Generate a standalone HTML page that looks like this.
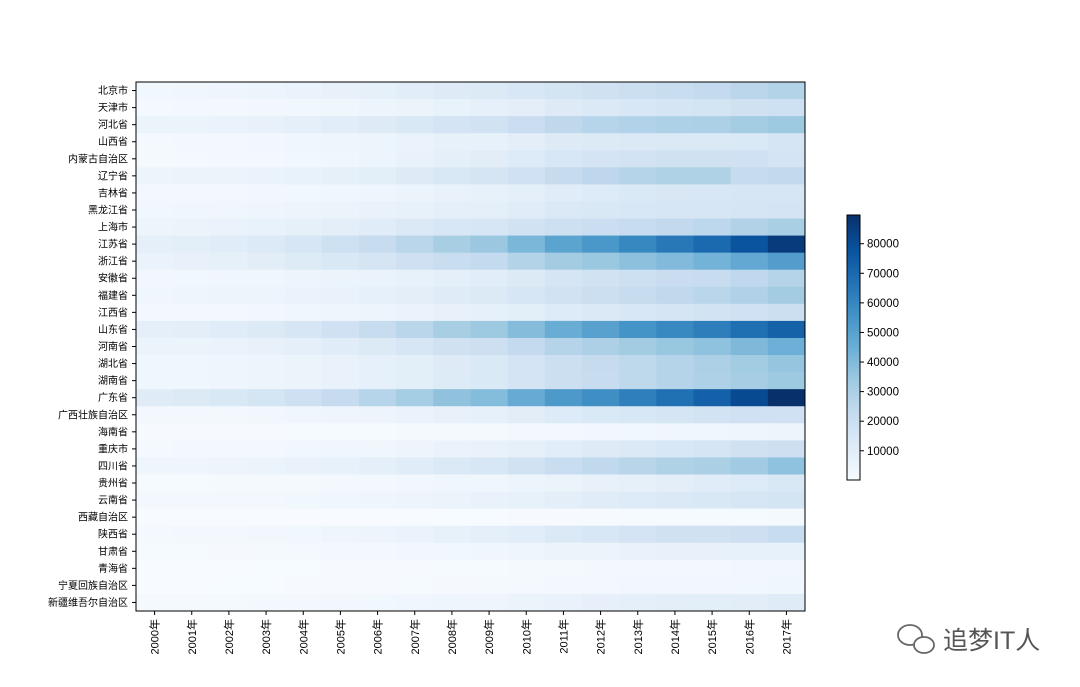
<!DOCTYPE html>
<html><head><meta charset="utf-8"><style>
body{margin:0;background:#fff;width:1080px;height:687px;overflow:hidden}
svg{display:block}
text{font-family:"Liberation Sans","Noto Sans CJK SC",sans-serif;fill:#000}
</style></head><body>
<svg id="chart" width="1080" height="687"></svg>
<script>
const provinces=["北京市","天津市","河北省","山西省","内蒙古自治区","辽宁省","吉林省","黑龙江省","上海市","江苏省","浙江省","安徽省","福建省","江西省","山东省","河南省","湖北省","湖南省","广东省","广西壮族自治区","海南省","重庆市","四川省","贵州省","云南省","西藏自治区","陕西省","甘肃省","青海省","宁夏回族自治区","新疆维吾尔自治区"];
const years=["2000年","2001年","2002年","2003年","2004年","2005年","2006年","2007年","2008年","2009年","2010年","2011年","2012年","2013年","2014年","2015年","2016年","2017年"];
const cbTicks=[10000,20000,30000,40000,50000,60000,70000,80000];
const gdp=[
[3162,3708,4315,5007,6033,6970,8118,9847,11115,12153,14114,16252,17879,19801,21331,23015,25669,28015],
[1702,1919,2151,2578,3111,3906,4463,5253,6719,7522,9224,11307,12894,14442,15727,16538,17885,18549],
[5044,5517,6018,6921,8478,10012,11468,13607,16012,17235,20394,24516,26575,28443,29421,29806,32070,34016],
[1846,2030,2325,2855,3571,4231,4879,6024,7315,7358,9201,11238,12113,12665,12761,12766,13050,15528],
[1539,1714,1941,2388,3041,3905,4944,6423,8496,9740,11672,14360,15881,16917,17770,17832,18128,16096],
[4669,5033,5458,6003,6672,8047,9305,11164,13669,15212,18457,22227,24846,27213,28627,28669,22246,23409],
[1952,2120,2349,2662,3122,3620,4275,5285,6426,7279,8668,10569,11939,13046,13803,14063,14777,14945],
[3151,3390,3637,4057,4751,5514,6212,7104,8314,8587,10369,12582,13692,14455,15039,15084,15386,15903],
[4771,5210,5741,6694,8073,9248,10572,12494,14070,15046,17166,19196,20182,21818,23568,25123,28179,30633],
[8554,9457,10607,12443,15004,18599,21742,26018,30982,34457,41425,49110,54058,59753,65088,70116,77388,85870],
[6141,6898,8004,9705,11649,13418,15718,18754,21463,22990,27722,32319,34665,37757,40173,42886,47251,51768],
[2902,3247,3520,3923,4759,5350,6113,7361,8852,10063,12359,15301,17212,19229,20849,22006,24408,27018],
[3765,4073,4468,4984,5763,6555,7584,9249,10823,12237,14737,17560,19702,21868,24056,25980,28811,32182],
[2003,2176,2450,2807,3457,4057,4821,5800,6971,7655,9451,11703,12949,14339,15715,16724,18499,20006],
[8337,9195,10276,12078,15022,18367,21900,25966,30933,33897,39170,45362,50013,55230,59427,63002,68024,72634],
[5053,5533,6035,6868,8554,10587,12363,15012,18019,19481,23092,26931,29599,32191,34938,37002,40472,44553],
[3546,3880,4213,4757,5633,6590,7617,9333,11329,12961,15968,19632,22250,24792,27379,29550,32665,35478],
[3551,3832,4152,4660,5642,6596,7689,9440,11555,13060,16038,19670,22154,24622,27037,28902,31551,33903],
[10741,12039,13502,15845,18865,22557,26588,31777,36797,39483,46013,53210,57068,62475,67810,72813,80855,89705],
[2080,2279,2524,2821,3434,3984,4747,5824,7021,7759,9570,11721,13035,14450,15673,16803,18318,18524],
[527,579,643,714,819,918,1066,1254,1503,1654,2065,2523,2856,3178,3501,3703,4053,4463],
[1791,1977,2233,2556,3035,3468,3907,4676,5794,6530,7926,10011,11410,12784,14263,15717,17741,19425],
[3928,4293,4725,5333,6380,7385,8690,10562,12601,14151,17185,21027,23873,26392,28537,30053,32935,36980],
[1030,1134,1243,1426,1678,2005,2339,2884,3562,3913,4602,5702,6852,8007,9266,10503,11777,13541],
[2011,2139,2312,2556,3082,3473,3988,4773,5692,6170,7224,8893,10309,11721,12815,13619,14788,16376],
[118,139,162,185,220,249,291,341,394,441,507,606,701,816,921,1026,1151,1311],
[1804,2010,2253,2588,3176,3934,4744,5757,7315,8170,10123,12512,14454,16205,17690,18022,19400,21899],
[1053,1125,1232,1399,1688,1934,2277,2703,3166,3388,4121,5020,5650,6331,6837,6790,7200,7460],
[264,301,341,390,466,543,641,784,1018,1081,1350,1670,1894,2122,2303,2417,2572,2625],
[295,337,377,445,537,612,711,919,1204,1353,1690,2102,2341,2578,2752,2912,3169,3444],
[1364,1491,1612,1886,2209,2604,3045,3523,4183,4277,5437,6610,7505,8444,9273,9325,9649,10882]
];
</script>
<script>
const NS="http://www.w3.org/2000/svg";
const svg=document.getElementById('chart');
function mk(tag,attrs,parent){const e=document.createElementNS(NS,tag);for(const k in attrs)e.setAttribute(k,attrs[k]);(parent||svg).appendChild(e);return e;}
const stops=["#f7fbff","#deebf7","#c6dbef","#9ecae1","#6baed6","#4292c6","#2171b5","#08519c","#08306b"];
function hex(h){return[1,3,5].map(i=>parseInt(h.substr(i,2),16));}
const all=gdp.flat();const vmin=Math.min(...all),vmax=Math.max(...all);
function cmap(v){let t=(v-vmin)/(vmax-vmin);t=Math.max(0,Math.min(1,t));const p=t*8,i=Math.min(7,Math.floor(p)),f=p-i;const a=hex(stops[i]),b=hex(stops[i+1]);return`rgb(${a.map((c,k)=>Math.round(c+(b[k]-c)*f)).join(',')})`;}
const X0=136,X1=805,Y0=82,Y1=611;
const cw=(X1-X0)/years.length,ch=(Y1-Y0)/provinces.length;
const xPos=i=>X0+i*cw, yPos=j=>Y0+j*ch;
const g=mk('g',{});


gdp.forEach((row,j)=>row.forEach((v,i)=>{
  const r=mk('rect',{x:xPos(i),y:yPos(j),width:cw+0.4,height:ch+0.4,fill:cmap(v)},g);
  
  
}));
const fr=mk('rect',{x:X0,y:Y0,width:X1-X0,height:Y1-Y0,fill:'none',stroke:'#000','stroke-width':1});


provinces.forEach((p,j)=>{
  const y=yPos(j)+ch/2;
  mk('line',{x1:X0-4,x2:X0,y1:y,y2:y,stroke:'#000'});
  const t=mk('text',{x:X0-8,y:y+3.5,'text-anchor':'end','font-size':10});
  t.textContent=p;
  
  
});
years.forEach((yr,i)=>{
  const x=xPos(i)+cw/2;
  mk('line',{x1:x,x2:x,y1:Y1,y2:Y1+4,stroke:'#000'});
  const t=mk('text',{x:0,y:0,'text-anchor':'end','font-size':11,transform:`translate(${x+4},${Y1+8}) rotate(-90)`});
  t.textContent=yr;
  
  
});
const CX=847,CW=13,CY0=215,CY1=480;
const defs=mk('defs',{});const lg=mk('linearGradient',{id:'cb',x1:0,y1:1,x2:0,y2:0},defs);
stops.forEach((s,i)=>mk('stop',{offset:i/8,'stop-color':s},lg));
const cb=mk('rect',{x:CX,y:CY0,width:CW,height:CY1-CY0,fill:'url(#cb)',stroke:'#000','stroke-width':1});


const cbY=v=>CY1-(v-vmin)/(vmax-vmin)*(CY1-CY0);
cbTicks.forEach(v=>{
  const y=cbY(v);
  mk('line',{x1:CX+CW,x2:CX+CW+4,y1:y,y2:y,stroke:'#000'});
  const t=mk('text',{x:CX+CW+7,y:y+4,'font-size':11.5});
  t.textContent=v;
  
  
});
const wm=mk('g',{transform:'translate(893,625)'});


mk('ellipse',{cx:17,cy:10,rx:12,ry:10,fill:'none',stroke:'#666','stroke-width':1.8},wm);
mk('ellipse',{cx:31,cy:20,rx:10,ry:8,fill:'#fff',stroke:'#666','stroke-width':1.8},wm);
const wt=mk('text',{x:50,y:24,'font-size':25},wm);
wt.setAttribute('style','fill:#555');
wt.textContent='追梦IT人';
</script>
</body></html>
